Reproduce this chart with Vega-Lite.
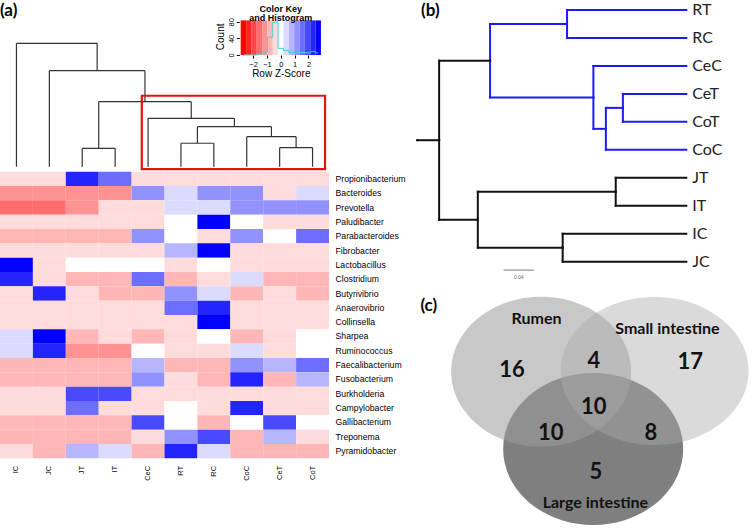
{
"$schema":"https://vega.github.io/schema/vega-lite/v6.json",
"width":754,"height":529,"autosize":{"type":"none"},"padding":0,"background":"white",
"config":{"view":{"stroke":null},"font":"Liberation Sans"},
"datasets":{
"cells":[
{"genus":"Propionibacterium","sample":"IC","z":-0.39},{"genus":"Propionibacterium","sample":"JC","z":-0.39},{"genus":"Propionibacterium","sample":"JT","z":2.32},{"genus":"Propionibacterium","sample":"IT","z":1.55},{"genus":"Propionibacterium","sample":"CeC","z":-0.39},{"genus":"Propionibacterium","sample":"RT","z":-0.39},{"genus":"Propionibacterium","sample":"RC","z":-0.39},{"genus":"Propionibacterium","sample":"CoC","z":-0.39},{"genus":"Propionibacterium","sample":"CeT","z":-0.39},{"genus":"Propionibacterium","sample":"CoT","z":-0.39},
{"genus":"Bacteroides","sample":"IC","z":-1.16},{"genus":"Bacteroides","sample":"JC","z":-1.16},{"genus":"Bacteroides","sample":"JT","z":-1.16},{"genus":"Bacteroides","sample":"IT","z":-1.16},{"genus":"Bacteroides","sample":"CeC","z":1.16},{"genus":"Bacteroides","sample":"RT","z":0.39},{"genus":"Bacteroides","sample":"RC","z":1.16},{"genus":"Bacteroides","sample":"CoC","z":1.16},{"genus":"Bacteroides","sample":"CeT","z":-0.39},{"genus":"Bacteroides","sample":"CoT","z":0.39},
{"genus":"Prevotella","sample":"IC","z":-1.55},{"genus":"Prevotella","sample":"JC","z":-1.55},{"genus":"Prevotella","sample":"JT","z":-1.16},{"genus":"Prevotella","sample":"IT","z":-0.39},{"genus":"Prevotella","sample":"CeC","z":-0.39},{"genus":"Prevotella","sample":"RT","z":0.39},{"genus":"Prevotella","sample":"RC","z":0.39},{"genus":"Prevotella","sample":"CoC","z":1.16},{"genus":"Prevotella","sample":"CeT","z":1.16},{"genus":"Prevotella","sample":"CoT","z":1.16},
{"genus":"Paludibacter","sample":"IC","z":-0.39},{"genus":"Paludibacter","sample":"JC","z":-0.39},{"genus":"Paludibacter","sample":"JT","z":-0.39},{"genus":"Paludibacter","sample":"IT","z":-0.39},{"genus":"Paludibacter","sample":"CeC","z":-0.39},{"genus":"Paludibacter","sample":"RT","z":0},{"genus":"Paludibacter","sample":"RC","z":2.71},{"genus":"Paludibacter","sample":"CoC","z":0},{"genus":"Paludibacter","sample":"CeT","z":-0.39},{"genus":"Paludibacter","sample":"CoT","z":-0.39},
{"genus":"Parabacteroides","sample":"IC","z":-0.77},{"genus":"Parabacteroides","sample":"JC","z":-0.77},{"genus":"Parabacteroides","sample":"JT","z":-0.77},{"genus":"Parabacteroides","sample":"IT","z":-0.77},{"genus":"Parabacteroides","sample":"CeC","z":1.16},{"genus":"Parabacteroides","sample":"RT","z":0},{"genus":"Parabacteroides","sample":"RC","z":-0.39},{"genus":"Parabacteroides","sample":"CoC","z":1.16},{"genus":"Parabacteroides","sample":"CeT","z":0},{"genus":"Parabacteroides","sample":"CoT","z":1.55},
{"genus":"Fibrobacter","sample":"IC","z":-0.39},{"genus":"Fibrobacter","sample":"JC","z":-0.39},{"genus":"Fibrobacter","sample":"JT","z":-0.39},{"genus":"Fibrobacter","sample":"IT","z":-0.39},{"genus":"Fibrobacter","sample":"CeC","z":-0.39},{"genus":"Fibrobacter","sample":"RT","z":0.77},{"genus":"Fibrobacter","sample":"RC","z":2.71},{"genus":"Fibrobacter","sample":"CoC","z":-0.39},{"genus":"Fibrobacter","sample":"CeT","z":-0.39},{"genus":"Fibrobacter","sample":"CoT","z":-0.39},
{"genus":"Lactobacillus","sample":"IC","z":2.71},{"genus":"Lactobacillus","sample":"JC","z":-0.39},{"genus":"Lactobacillus","sample":"JT","z":0},{"genus":"Lactobacillus","sample":"IT","z":0},{"genus":"Lactobacillus","sample":"CeC","z":0},{"genus":"Lactobacillus","sample":"RT","z":-0.39},{"genus":"Lactobacillus","sample":"RC","z":0},{"genus":"Lactobacillus","sample":"CoC","z":-0.39},{"genus":"Lactobacillus","sample":"CeT","z":-0.39},{"genus":"Lactobacillus","sample":"CoT","z":-0.39},
{"genus":"Clostridium","sample":"IC","z":2.32},{"genus":"Clostridium","sample":"JC","z":-0.39},{"genus":"Clostridium","sample":"JT","z":-0.77},{"genus":"Clostridium","sample":"IT","z":-0.77},{"genus":"Clostridium","sample":"CeC","z":1.55},{"genus":"Clostridium","sample":"RT","z":-0.77},{"genus":"Clostridium","sample":"RC","z":-0.39},{"genus":"Clostridium","sample":"CoC","z":0.39},{"genus":"Clostridium","sample":"CeT","z":-0.77},{"genus":"Clostridium","sample":"CoT","z":-0.77},
{"genus":"Butyrivibrio","sample":"IC","z":-0.39},{"genus":"Butyrivibrio","sample":"JC","z":2.32},{"genus":"Butyrivibrio","sample":"JT","z":-0.39},{"genus":"Butyrivibrio","sample":"IT","z":-0.77},{"genus":"Butyrivibrio","sample":"CeC","z":-0.77},{"genus":"Butyrivibrio","sample":"RT","z":1.16},{"genus":"Butyrivibrio","sample":"RC","z":0.39},{"genus":"Butyrivibrio","sample":"CoC","z":-0.77},{"genus":"Butyrivibrio","sample":"CeT","z":-0.39},{"genus":"Butyrivibrio","sample":"CoT","z":-0.77},
{"genus":"Anaerovibrio","sample":"IC","z":-0.39},{"genus":"Anaerovibrio","sample":"JC","z":-0.39},{"genus":"Anaerovibrio","sample":"JT","z":-0.39},{"genus":"Anaerovibrio","sample":"IT","z":-0.39},{"genus":"Anaerovibrio","sample":"CeC","z":-0.39},{"genus":"Anaerovibrio","sample":"RT","z":1.55},{"genus":"Anaerovibrio","sample":"RC","z":2.32},{"genus":"Anaerovibrio","sample":"CoC","z":-0.39},{"genus":"Anaerovibrio","sample":"CeT","z":-0.39},{"genus":"Anaerovibrio","sample":"CoT","z":-0.39},
{"genus":"Collinsella","sample":"IC","z":-0.39},{"genus":"Collinsella","sample":"JC","z":-0.39},{"genus":"Collinsella","sample":"JT","z":-0.39},{"genus":"Collinsella","sample":"IT","z":-0.39},{"genus":"Collinsella","sample":"CeC","z":-0.39},{"genus":"Collinsella","sample":"RT","z":-0.39},{"genus":"Collinsella","sample":"RC","z":2.71},{"genus":"Collinsella","sample":"CoC","z":-0.39},{"genus":"Collinsella","sample":"CeT","z":-0.39},{"genus":"Collinsella","sample":"CoT","z":-0.39},
{"genus":"Sharpea","sample":"IC","z":0.39},{"genus":"Sharpea","sample":"JC","z":2.71},{"genus":"Sharpea","sample":"JT","z":-0.77},{"genus":"Sharpea","sample":"IT","z":-0.39},{"genus":"Sharpea","sample":"CeC","z":-0.77},{"genus":"Sharpea","sample":"RT","z":-0.39},{"genus":"Sharpea","sample":"RC","z":0},{"genus":"Sharpea","sample":"CoC","z":-0.77},{"genus":"Sharpea","sample":"CeT","z":-0.39},{"genus":"Sharpea","sample":"CoT","z":0},
{"genus":"Ruminococcus","sample":"IC","z":0.39},{"genus":"Ruminococcus","sample":"JC","z":2.32},{"genus":"Ruminococcus","sample":"JT","z":-1.16},{"genus":"Ruminococcus","sample":"IT","z":-1.16},{"genus":"Ruminococcus","sample":"CeC","z":0},{"genus":"Ruminococcus","sample":"RT","z":-0.39},{"genus":"Ruminococcus","sample":"RC","z":-0.39},{"genus":"Ruminococcus","sample":"CoC","z":0.39},{"genus":"Ruminococcus","sample":"CeT","z":-0.39},{"genus":"Ruminococcus","sample":"CoT","z":0},
{"genus":"Faecalibacterium","sample":"IC","z":-0.77},{"genus":"Faecalibacterium","sample":"JC","z":-0.77},{"genus":"Faecalibacterium","sample":"JT","z":-0.77},{"genus":"Faecalibacterium","sample":"IT","z":-0.77},{"genus":"Faecalibacterium","sample":"CeC","z":0.77},{"genus":"Faecalibacterium","sample":"RT","z":-0.77},{"genus":"Faecalibacterium","sample":"RC","z":-0.77},{"genus":"Faecalibacterium","sample":"CoC","z":1.16},{"genus":"Faecalibacterium","sample":"CeT","z":0.77},{"genus":"Faecalibacterium","sample":"CoT","z":1.55},
{"genus":"Fusobacterium","sample":"IC","z":-0.77},{"genus":"Fusobacterium","sample":"JC","z":-0.77},{"genus":"Fusobacterium","sample":"JT","z":-0.77},{"genus":"Fusobacterium","sample":"IT","z":-0.77},{"genus":"Fusobacterium","sample":"CeC","z":1.16},{"genus":"Fusobacterium","sample":"RT","z":-0.39},{"genus":"Fusobacterium","sample":"RC","z":-0.77},{"genus":"Fusobacterium","sample":"CoC","z":2.32},{"genus":"Fusobacterium","sample":"CeT","z":-0.77},{"genus":"Fusobacterium","sample":"CoT","z":0.77},
{"genus":"Burkholderia","sample":"IC","z":-0.39},{"genus":"Burkholderia","sample":"JC","z":-0.39},{"genus":"Burkholderia","sample":"JT","z":1.93},{"genus":"Burkholderia","sample":"IT","z":1.93},{"genus":"Burkholderia","sample":"CeC","z":-0.39},{"genus":"Burkholderia","sample":"RT","z":-0.39},{"genus":"Burkholderia","sample":"RC","z":-0.39},{"genus":"Burkholderia","sample":"CoC","z":-0.39},{"genus":"Burkholderia","sample":"CeT","z":-0.39},{"genus":"Burkholderia","sample":"CoT","z":-0.39},
{"genus":"Campylobacter","sample":"IC","z":-0.39},{"genus":"Campylobacter","sample":"JC","z":-0.39},{"genus":"Campylobacter","sample":"JT","z":1.55},{"genus":"Campylobacter","sample":"IT","z":-0.39},{"genus":"Campylobacter","sample":"CeC","z":-0.39},{"genus":"Campylobacter","sample":"RT","z":0},{"genus":"Campylobacter","sample":"RC","z":-0.39},{"genus":"Campylobacter","sample":"CoC","z":2.32},{"genus":"Campylobacter","sample":"CeT","z":-0.39},{"genus":"Campylobacter","sample":"CoT","z":-0.39},
{"genus":"Gallibacterium","sample":"IC","z":-0.77},{"genus":"Gallibacterium","sample":"JC","z":-0.77},{"genus":"Gallibacterium","sample":"JT","z":-0.77},{"genus":"Gallibacterium","sample":"IT","z":-0.77},{"genus":"Gallibacterium","sample":"CeC","z":1.93},{"genus":"Gallibacterium","sample":"RT","z":0},{"genus":"Gallibacterium","sample":"RC","z":-0.77},{"genus":"Gallibacterium","sample":"CoC","z":0},{"genus":"Gallibacterium","sample":"CeT","z":1.93},{"genus":"Gallibacterium","sample":"CoT","z":0},
{"genus":"Treponema","sample":"IC","z":-0.77},{"genus":"Treponema","sample":"JC","z":-0.77},{"genus":"Treponema","sample":"JT","z":-0.77},{"genus":"Treponema","sample":"IT","z":-0.77},{"genus":"Treponema","sample":"CeC","z":-0.39},{"genus":"Treponema","sample":"RT","z":1.16},{"genus":"Treponema","sample":"RC","z":1.93},{"genus":"Treponema","sample":"CoC","z":-0.77},{"genus":"Treponema","sample":"CeT","z":0.77},{"genus":"Treponema","sample":"CoT","z":-0.39},
{"genus":"Pyramidobacter","sample":"IC","z":-0.39},{"genus":"Pyramidobacter","sample":"JC","z":-0.77},{"genus":"Pyramidobacter","sample":"JT","z":0.77},{"genus":"Pyramidobacter","sample":"IT","z":0.39},{"genus":"Pyramidobacter","sample":"CeC","z":-0.77},{"genus":"Pyramidobacter","sample":"RT","z":2.32},{"genus":"Pyramidobacter","sample":"RC","z":0.39},{"genus":"Pyramidobacter","sample":"CoC","z":-0.77},{"genus":"Pyramidobacter","sample":"CeT","z":-0.77},{"genus":"Pyramidobacter","sample":"CoT","z":-0.77}
],
"keybins":[
{"z":-2.71,"z0":-2.9,"z1":-2.51},{"z":-2.32,"z0":-2.51,"z1":-2.13},{"z":-1.93,"z0":-2.13,"z1":-1.74},{"z":-1.55,"z0":-1.74,"z1":-1.35},{"z":-1.16,"z0":-1.35,"z1":-0.97},{"z":-0.77,"z0":-0.97,"z1":-0.58},{"z":-0.39,"z0":-0.58,"z1":-0.19},{"z":0,"z0":-0.19,"z1":0.19},{"z":0.39,"z0":0.19,"z1":0.58},{"z":0.77,"z0":0.58,"z1":0.97},{"z":1.16,"z0":0.97,"z1":1.35},{"z":1.55,"z0":1.35,"z1":1.74},{"z":1.93,"z0":1.74,"z1":2.13},{"z":2.32,"z0":2.13,"z1":2.51},{"z":2.71,"z0":2.51,"z1":2.9}
],
"merges":[
{"left":2.5,"right":3.5,"height":1.49,"leftHeight":0,"rightHeight":0},
{"left":5.5,"right":6.5,"height":1.9,"leftHeight":0,"rightHeight":0},
{"left":8.5,"right":9.5,"height":1.54,"leftHeight":0,"rightHeight":0},
{"left":7.5,"right":9.0,"height":2.43,"leftHeight":0,"rightHeight":1.54},
{"left":6.0,"right":8.25,"height":3.24,"leftHeight":1.9,"rightHeight":2.43},
{"left":4.5,"right":7.125,"height":3.92,"leftHeight":0,"rightHeight":3.24},
{"left":3.0,"right":5.8125,"height":5.27,"leftHeight":1.49,"rightHeight":3.92},
{"left":1.5,"right":4.406,"height":7.78,"leftHeight":0,"rightHeight":5.27},
{"left":0.5,"right":2.953,"height":10,"leftHeight":0,"rightHeight":7.78}
],
"edges":[
{"px":0,"py":4.656,"cx":0.029,"cy":4.656,"clade":"b"},
{"px":0.029,"py":4.656,"cx":0.0967,"cy":1.8125,"clade":"b"},
{"px":0.029,"py":4.656,"cx":0.0804,"cy":7.5,"clade":"b"},
{"px":0.0967,"py":1.8125,"cx":0.199,"cy":0.5,"clade":"u"},
{"px":0.0967,"py":1.8125,"cx":0.234,"cy":3.125,"clade":"u"},
{"px":0.199,"py":0.5,"cx":0.3575,"cy":0,"clade":"u","name":"RT"},
{"px":0.199,"py":0.5,"cx":0.3575,"cy":1,"clade":"u","name":"RC"},
{"px":0.234,"py":3.125,"cx":0.3575,"cy":2,"clade":"u","name":"CeC"},
{"px":0.234,"py":3.125,"cx":0.2506,"cy":4.25,"clade":"u"},
{"px":0.2506,"py":4.25,"cx":0.2732,"cy":3.5,"clade":"u"},
{"px":0.2506,"py":4.25,"cx":0.3575,"cy":5,"clade":"u","name":"CoC"},
{"px":0.2732,"py":3.5,"cx":0.3575,"cy":3,"clade":"u","name":"CeT"},
{"px":0.2732,"py":3.5,"cx":0.3575,"cy":4,"clade":"u","name":"CoT"},
{"px":0.0804,"py":7.5,"cx":0.2637,"cy":6.5,"clade":"b"},
{"px":0.0804,"py":7.5,"cx":0.1932,"cy":8.5,"clade":"b"},
{"px":0.2637,"py":6.5,"cx":0.3575,"cy":6,"clade":"b","name":"JT"},
{"px":0.2637,"py":6.5,"cx":0.3575,"cy":7,"clade":"b","name":"IT"},
{"px":0.1932,"py":8.5,"cx":0.3575,"cy":8,"clade":"b","name":"IC"},
{"px":0.1932,"py":8.5,"cx":0.3575,"cy":9,"clade":"b","name":"JC"}
],
"sets":[
{"set":"Large intestine","cx":1.678,"cy":1.711,"lx":1.703,"ly":2.314},
{"set":"Rumen","cx":1.089,"cy":0.852,"lx":1.037,"ly":0.27},
{"set":"Small intestine","cx":2.374,"cy":0.844,"lx":2.519,"ly":0.378}
],
"regions":[
{"region":"Rumen only","n":16,"cx":0.759,"cy":0.833},
{"region":"Rumen and small intestine","n":4,"cx":1.686,"cy":0.733},
{"region":"Small intestine only","n":17,"cx":2.778,"cy":0.741},
{"region":"All three","n":10,"cx":1.686,"cy":1.241},
{"region":"Rumen and large intestine","n":10,"cx":1.197,"cy":1.537},
{"region":"Small and large intestine","n":8,"cx":2.333,"cy":1.537},
{"region":"Large intestine only","n":5,"cx":1.708,"cy":1.963}
]
},
"resolve":{"scale":{"x":"independent","y":"independent","color":"independent"}},
"layer":[
{
"layer":[
{"data":{"name":"merges"},"mark":{"type":"rule","color":"#333333","strokeWidth":1.2},
 "encoding":{"x":{"field":"left","type":"quantitative","scale":{"domain":[0,10],"range":[0,329]},"axis":null},"x2":{"field":"right"},
 "y":{"field":"height","type":"quantitative","scale":{"domain":[0,10],"range":[166.7,43.3]},"axis":null}}},
{"data":{"name":"merges"},"mark":{"type":"rule","color":"#333333","strokeWidth":1.2},
 "encoding":{"x":{"field":"left","type":"quantitative","axis":null},"y":{"field":"leftHeight","type":"quantitative","axis":null},"y2":{"field":"height"}}},
{"data":{"name":"merges"},"mark":{"type":"rule","color":"#333333","strokeWidth":1.2},
 "encoding":{"x":{"field":"right","type":"quantitative","axis":null},"y":{"field":"rightHeight","type":"quantitative","axis":null},"y2":{"field":"height"}}},
{"data":{"values":[{}]},"mark":{"type":"rect","fillOpacity":0,"stroke":"#e3120b","strokeWidth":2.2},
 "encoding":{"x":{"datum":4.31,"type":"quantitative","axis":null},"x2":{"datum":9.88},"y":{"datum":5.75,"type":"quantitative","axis":null},"y2":{"datum":-0.19}}},
{"data":{"values":[{}]},"mark":{"type":"text","text":"(a)","font":"Lato","fontWeight":"bold","fontSize":17,"align":"left","baseline":"top","color":"#000"},
 "encoding":{"x":{"datum":0,"type":"quantitative","axis":null},"y":{"datum":13.28,"type":"quantitative","axis":null}}}
]
},
{
"layer":[
{"data":{"name":"keybins"},"mark":{"type":"rect"},
 "encoding":{
 "x":{"field":"z0","type":"quantitative","scale":{"domain":[-2.9,2.9],"range":[239.3,322.3]},
  "axis":{"orient":"bottom","offset":-474,"values":[-2,-1,0,1,2],"format":"d","labelOverlap":false,"title":"Row Z-Score","titleFontSize":10,"titleFontWeight":"normal","titlePadding":1,"labelFontSize":7.5,"labelPadding":2,"tickSize":3,"domain":false,"grid":false,"tickColor":"#000","labelColor":"#000","titleColor":"#000"}},
 "x2":{"field":"z1"},
 "y":{"datum":0,"type":"quantitative","scale":{"domain":[0,83.5],"range":[55,17.7]},
  "axis":{"orient":"left","offset":-239.3,"values":[0,40,80],"format":"d","labelOverlap":false,"title":"Count","titleFontSize":10,"titleFontWeight":"normal","titlePadding":2,"labelFontSize":7.5,"labelAngle":-90,"labelPadding":1,"tickSize":3,"domain":false,"grid":false,"tickColor":"#000","labelColor":"#000","titleColor":"#000"}},
 "y2":{"datum":83.5},
 "color":{"field":"z","type":"quantitative","scale":{"type":"threshold","domain":[-2.51,-2.13,-1.74,-1.35,-0.97,-0.58,-0.19,0.19,0.58,0.97,1.35,1.74,2.13,2.51],"range":["#ff0000","#ff2424","#ff4949","#ff6d6d","#ff9292","#ffb6b6","#ffdbdb","#ffffff","#dbdbff","#b6b6ff","#9292ff","#6d6dff","#4949ff","#2424ff","#0000ff"]},"legend":null}}},
{"data":{"name":"cells"},
 "transform":[{"aggregate":[{"op":"count","as":"n"}],"groupby":["z"]},{"impute":"n","key":"z","keyvals":[-2.71,-2.32,-1.93,-1.55,-1.16,-0.77,-0.39,0,0.39,0.77,1.16,1.55,1.93,2.32,2.71],"value":0}],
 "mark":{"type":"line","interpolate":"step","color":"#3cd6d6","strokeWidth":1},
 "encoding":{"x":{"field":"z","type":"quantitative"},"y":{"field":"n","type":"quantitative"}}},
{"data":{"values":[{}]},"mark":{"type":"text","text":"Color Key","fontWeight":"bold","fontSize":9,"color":"#000"},
 "encoding":{"x":{"datum":0,"type":"quantitative"},"y":{"datum":112,"type":"quantitative"}}},
{"data":{"values":[{}]},"mark":{"type":"text","text":"and Histogram","fontWeight":"bold","fontSize":9,"color":"#000"},
 "encoding":{"x":{"datum":0,"type":"quantitative"},"y":{"datum":88.5,"type":"quantitative"}}}
]
},
{
"data":{"name":"cells"},
"mark":{"type":"rect"},
"encoding":{
 "x":{"field":"sample","type":"nominal","scale":{"domain":["IC","JC","JT","IT","CeC","RT","RC","CoC","CeT","CoT"],"range":[0,329],"paddingInner":0,"paddingOuter":0},
  "axis":{"orient":"bottom","offset":-70.7,"labelAngle":-90,"domain":false,"ticks":false,"labelPadding":7,"labelFontSize":7.5,"labelColor":"#000","title":null}},
 "y":{"field":"genus","type":"nominal","scale":{"domain":["Propionibacterium","Bacteroides","Prevotella","Paludibacter","Parabacteroides","Fibrobacter","Lactobacillus","Clostridium","Butyrivibrio","Anaerovibrio","Collinsella","Sharpea","Ruminococcus","Faecalibacterium","Fusobacterium","Burkholderia","Campylobacter","Gallibacterium","Treponema","Pyramidobacter"],"range":[171.7,458.3],"paddingInner":0,"paddingOuter":0},
  "axis":{"orient":"right","offset":-425,"domain":false,"ticks":false,"labelPadding":6,"labelFontSize":8.7,"labelColor":"#000","title":null}},
 "color":{"field":"z","type":"quantitative","scale":{"type":"threshold","domain":[-2.51,-2.13,-1.74,-1.35,-0.97,-0.58,-0.19,0.19,0.58,0.97,1.35,1.74,2.13,2.51],"range":["#ff0000","#ff2424","#ff4949","#ff6d6d","#ff9292","#ffb6b6","#ffdbdb","#ffffff","#dbdbff","#b6b6ff","#9292ff","#6d6dff","#4949ff","#2424ff","#0000ff"]},"legend":null}
}
},
{
"layer":[
{"data":{"name":"edges"},"mark":{"type":"rule","strokeWidth":2,"strokeCap":"square"},
 "encoding":{"x":{"field":"px","type":"quantitative","scale":{"domain":[0,0.3575],"range":[417.3,718.3]},"axis":null},
 "y":{"field":"py","type":"quantitative","scale":{"domain":[0,9],"range":[10,261.7]},"axis":null},"y2":{"field":"cy"},
 "color":{"field":"clade","type":"nominal","scale":{"domain":["u","b"],"range":["#1c1cf2","#111111"]},"legend":null}}},
{"data":{"name":"edges"},"mark":{"type":"rule","strokeWidth":2,"strokeCap":"square"},
 "encoding":{"x":{"field":"px","type":"quantitative","axis":null},"x2":{"field":"cx"},"y":{"field":"cy","type":"quantitative","axis":null},
 "color":{"field":"clade","type":"nominal","legend":null}}},
{"data":{"name":"edges"},"transform":[{"filter":"isValid(datum.name)"}],
 "mark":{"type":"text","align":"left","baseline":"middle","dx":6,"font":"Lato","fontSize":16,"color":"#222"},
 "encoding":{"x":{"field":"cx","type":"quantitative","axis":null},"y":{"field":"cy","type":"quantitative","axis":null},"text":{"field":"name"}}},
{"data":{"values":[{}]},"mark":{"type":"rule","color":"#555","strokeWidth":0.8},
 "encoding":{"x":{"datum":0.1147,"type":"quantitative","axis":null},"x2":{"datum":0.1549},"y":{"datum":9.3,"type":"quantitative","axis":null}}},
{"data":{"values":[{}]},"mark":{"type":"text","text":"0.04","fontSize":5,"color":"#666"},
 "encoding":{"x":{"datum":0.1348,"type":"quantitative","axis":null},"y":{"datum":9.55,"type":"quantitative","axis":null}}},
{"data":{"values":[{}]},"mark":{"type":"text","text":"(b)","font":"Lato","fontWeight":"bold","fontSize":17,"align":"left","baseline":"top","color":"#000"},
 "encoding":{"x":{"datum":0.005,"type":"quantitative","axis":null},"y":{"datum":-0.265,"type":"quantitative","axis":null}}}
]
},
{
"layer":[
{"data":{"name":"sets"},"transform":[{"filter":"datum.set == 'Large intestine'"}],
 "mark":{"type":"point","filled":true,"strokeWidth":0,"size":32400,"color":"#7f7f7f","opacity":1,"shape":"M 1 0 C 1 0.466 0.552 0.844 0 0.844 C -0.552 0.844 -1 0.466 -1 0 C -1 -0.466 -0.552 -0.844 0 -0.844 C 0.552 -0.844 1 -0.466 1 0 Z"},
 "encoding":{"x":{"field":"cx","type":"quantitative","scale":{"domain":[0,3.433],"range":[445,754]},"axis":null},"y":{"field":"cy","type":"quantitative","scale":{"domain":[0,2.6],"range":[295,529]},"axis":null}}},
{"data":{"name":"sets"},"transform":[{"filter":"datum.set == 'Rumen'"}],
 "mark":{"type":"point","filled":true,"strokeWidth":0,"size":32400,"color":"#9d9d9d","opacity":0.56,"shape":"M 1 0 C 1 0.46 0.552 0.833 0 0.833 C -0.552 0.833 -1 0.46 -1 0 C -1 -0.46 -0.552 -0.833 0 -0.833 C 0.552 -0.833 1 -0.46 1 0 Z"},
 "encoding":{"x":{"field":"cx","type":"quantitative","axis":null},"y":{"field":"cy","type":"quantitative","axis":null}}},
{"data":{"name":"sets"},"transform":[{"filter":"datum.set == 'Small intestine'"}],
 "mark":{"type":"point","filled":true,"strokeWidth":0,"size":32400,"color":"#aaaaaa","opacity":0.44,"shape":"M 1.044 0 C 1.044 0.454 0.577 0.822 0 0.822 C -0.577 0.822 -1.044 0.454 -1.044 0 C -1.044 -0.454 -0.577 -0.822 0 -0.822 C 0.577 -0.822 1.044 -0.454 1.044 0 Z"},
 "encoding":{"x":{"field":"cx","type":"quantitative","axis":null},"y":{"field":"cy","type":"quantitative","axis":null}}},
{"data":{"name":"regions"},"mark":{"type":"text","font":"Lato","fontWeight":"bold","fontSize":22,"color":"#111","baseline":"middle"},
 "encoding":{"x":{"field":"cx","type":"quantitative","axis":null},"y":{"field":"cy","type":"quantitative","axis":null},"text":{"field":"n"}}},
{"data":{"name":"sets"},"mark":{"type":"text","font":"Lato","fontWeight":"bold","fontSize":16,"color":"#111","baseline":"middle"},
 "encoding":{"x":{"field":"lx","type":"quantitative","axis":null},"y":{"field":"ly","type":"quantitative","axis":null},"text":{"field":"set"}}},
{"data":{"values":[{}]},"mark":{"type":"text","text":"(c)","font":"Lato","fontWeight":"bold","fontSize":17,"align":"left","baseline":"middle","color":"#000"},
 "encoding":{"x":{"datum":-0.278,"type":"quantitative","axis":null},"y":{"datum":0.122,"type":"quantitative","axis":null}}}
]
}
]
}
